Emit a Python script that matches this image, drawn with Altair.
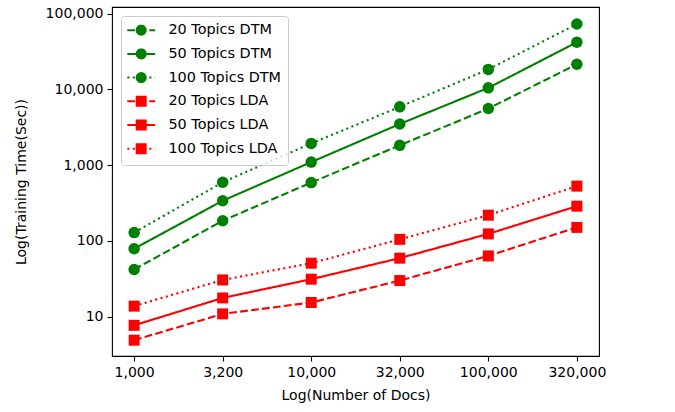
import math
import altair as alt
import pandas as pd

# ---- data ----
docs = [1000, 3200, 10000, 32000, 100000, 320000]
series_names = ["20 Topics DTM", "50 Topics DTM", "100 Topics DTM",
                "20 Topics LDA", "50 Topics LDA", "100 Topics LDA"]
series_models = ["DTM", "DTM", "DTM", "LDA", "LDA", "LDA"]
series_topics = ["20", "50", "100", "20", "50", "100"]
dtm_20 = [42, 185, 590, 1830, 5600, 21500]
dtm_50 = [79, 340, 1100, 3500, 10500, 42000]
dtm_100 = [129, 595, 1940, 5900, 18400, 73000]
lda_20 = [4.9, 10.9, 15.4, 30, 63.5, 151]
lda_50 = [7.7, 17.7, 31.3, 59.3, 124, 288]
lda_100 = [13.8, 30.6, 50.9, 105, 219, 530]
series_values = [dtm_20, dtm_50, dtm_100, lda_20, lda_50, lda_100]
y_ticks = [10, 100, 1000, 10000, 100000]

# ---- styles ----
model_colors = ["#008000", "#ff0000"]
series_colors = ["#008000", "#008000", "#008000", "#ff0000", "#ff0000", "#ff0000"]
topic_dashes = [[7.7, 3.3], [1, 0], [2.1, 3.4]]

# legend symbols: line segment + marker (1 unit = 5.5 px), polygonal circle
MR = 0.82
circ_pts = [(MR * math.cos(2 * math.pi * k / 32), MR * math.sin(2 * math.pi * k / 32)) for k in range(32)]
circ = "M" + " L".join(f"{px:.3f},{py:.3f}" for px, py in circ_pts) + " Z"
sq = f"M-{MR},-{MR} L{MR},-{MR} L{MR},{MR} L-{MR},{MR} Z"
dash_line = "M-2.53,0 L-1.13,0 M1.47,0 L2.53,0 "
solid_line = "M-2.53,0 L2.53,0 "
dot_line = "M-2.53,0 L-2.15,0 M-1.53,0 L-1.15,0 M1.47,0 L1.85,0 M2.47,0 L2.53,0 "
legend_paths = [dash_line + circ, solid_line + circ, dot_line + circ,
                dash_line + sq, solid_line + sq, dot_line + sq]

rows = []
for name, model, topics, vals in zip(series_names, series_models, series_topics, series_values):
    for d, v in zip(docs, vals):
        rows.append({"docs": d, "time": v, "series": name, "model": model, "topics": topics})
df = pd.DataFrame(rows)

x_enc = alt.X("docs:O", sort=docs,
              scale=alt.Scale(type="point", padding=0.25),
              axis=alt.Axis(title="Log(Number of Docs)", labelAngle=0,
                            format=",", formatType="number", titlePadding=9))
y_enc = alt.Y("time:Q",
              scale=alt.Scale(type="log", domain=[3.03, 122600], nice=False),
              axis=alt.Axis(title="Log(Training Time(Sec))", values=y_ticks,
                            format=",", titlePadding=17))

model_color = alt.Color("model:N", scale=alt.Scale(domain=["DTM", "LDA"], range=model_colors),
                        legend=None)

lines = alt.Chart(df).mark_line(strokeWidth=2.1, strokeCap="butt").encode(
    x=x_enc, y=y_enc,
    color=model_color,
    strokeDash=alt.StrokeDash("topics:N",
                              scale=alt.Scale(domain=["20", "50", "100"], range=topic_dashes),
                              legend=None),
    detail="series:N",
)

points_dtm = alt.Chart(df).transform_filter(alt.datum.model == "DTM").mark_point(
    filled=True, opacity=1, size=132, strokeWidth=0, shape="circle").encode(
    x=x_enc, y=y_enc, color=model_color,
)
points_lda = alt.Chart(df).transform_filter(alt.datum.model == "LDA").mark_point(
    filled=True, opacity=1, size=121, strokeWidth=0, shape="square").encode(
    x=x_enc, y=y_enc, color=model_color,
)

leg = alt.Legend(title=None, orient="top-left", offset=9, padding=7,
                 symbolSize=121, symbolStrokeWidth=2, symbolOpacity=1,
                 symbolOffset=6, labelOffset=20, rowPadding=5.7,
                 labelFontSize=14.4, labelFont="DejaVu Sans", labelColor="black",
                 strokeColor="#cccccc", fillColor="rgba(255,255,255,0.8)",
                 cornerRadius=3, labelLimit=300)

legend_layer = alt.Chart(df).transform_filter("false").mark_point(opacity=1, size=121).encode(
    x=x_enc, y=y_enc,
    fill=alt.Fill("series:N", scale=alt.Scale(domain=series_names, range=series_colors), legend=leg),
    stroke=alt.Stroke("series:N", scale=alt.Scale(domain=series_names, range=series_colors), legend=leg),
    shape=alt.Shape("series:N", scale=alt.Scale(domain=series_names, range=legend_paths), legend=leg),
)

chart = alt.layer(lines, points_dtm, points_lda, legend_layer).properties(
    width=487, height=349,
    autosize=alt.AutoSizeParams(type="none"),
    padding={"left": 112, "top": 7, "right": 76, "bottom": 56},
).configure(
    font="DejaVu Sans",
).configure_view(
    stroke="black", strokeWidth=1.1,
).configure_axis(
    grid=False, domain=False,
    labelFont="DejaVu Sans", labelFontSize=14, labelColor="black",
    titleFont="DejaVu Sans", titleFontSize=14, titleColor="black", titleFontWeight="normal",
    tickColor="black", tickSize=5, tickWidth=1.1, labelPadding=4,
)

chart.save("out.html", embed_options={"renderer": "svg", "actions": False})
